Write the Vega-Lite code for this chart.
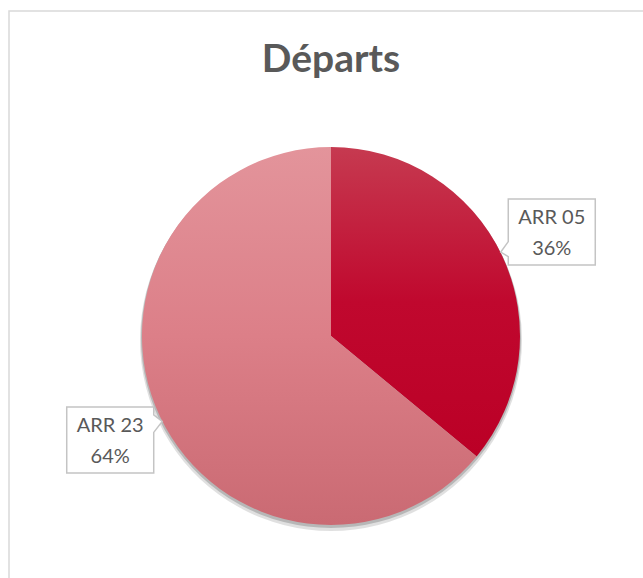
{
  "$schema": "https://vega.github.io/schema/vega-lite/v6.json",
  "width": 644,
  "height": 650,
  "autosize": {"type": "none"},
  "padding": {"left": 9, "top": 11, "right": 0, "bottom": 0},
  "background": "white",
  "config": {"view": {"stroke": "#d9d9d9", "strokeWidth": 1.5}},
  "title": {"text": "Départs", "font": "Lato", "fontSize": 39, "fontWeight": "bold", "color": "#595959", "offset": -100, "baseline": "alphabetic", "anchor": "middle"},
  "data": {"values": [
    {"cat": "ARR 05", "value": 36},
    {"cat": "ARR 23", "value": 64}
  ]},
  "layer": [
    {
      "mark": {"type": "arc", "radius": 191, "color": "#000000", "opacity": 0.12, "yOffset": 4},
      "encoding": {
        "theta": {"field": "value", "type": "quantitative", "stack": true},
        "order": {"field": "cat", "sort": "ascending"}
      }
    },
    {
      "mark": {"type": "arc", "radius": 190, "color": "#000000", "opacity": 0.18, "yOffset": 2},
      "encoding": {
        "theta": {"field": "value", "type": "quantitative", "stack": true},
        "order": {"field": "cat", "sort": "ascending"}
      }
    },
    {
      "mark": {"type": "arc", "radius": 189},
      "encoding": {
        "theta": {"field": "value", "type": "quantitative", "stack": true},
        "order": {"field": "cat", "sort": "ascending"},
        "color": {
          "condition": {
            "test": "datum.cat === 'ARR 05'",
            "value": {"gradient": "linear", "x1": 0, "y1": 0, "x2": 0, "y2": 1, "stops": [
              {"offset": 0, "color": "#c63a50"},
              {"offset": 0.5, "color": "#c0082e"},
              {"offset": 1, "color": "#bb0026"}
            ]}
          },
          "value": {"gradient": "linear", "x1": 0, "y1": 0, "x2": 0, "y2": 1, "stops": [
            {"offset": 0, "color": "#e3949b"},
            {"offset": 0.5, "color": "#dc7f88"},
            {"offset": 1, "color": "#ca6a73"}
          ]}
        }
      }
    },
    {
      "transform": [
        {"joinaggregate": [{"op": "sum", "field": "value", "as": "total"}]},
        {"window": [{"op": "sum", "field": "value", "as": "cum"}], "sort": [{"field": "cat"}]},
        {"calculate": "2 * PI * (datum.cum - datum.value / 2) / datum.total", "as": "mid"},
        {"calculate": "sin(datum.mid)", "as": "lx"},
        {"calculate": "cos(datum.mid)", "as": "ly"}
      ],
      "mark": {"type": "point", "filled": true, "fill": "#ffffff", "stroke": "#c4c4c4", "strokeWidth": 1.5, "size": 10000, "opacity": 1},
      "encoding": {
        "x": {"field": "lx", "type": "quantitative", "scale": {"domain": [-1.3197, 1.3197], "nice": false, "zero": false}, "axis": null},
        "y": {"field": "ly", "type": "quantitative", "scale": {"domain": [-1.332, 1.332], "nice": false, "zero": false}, "axis": null},
        "shape": {
          "condition": {"test": "datum.cat === 'ARR 05'", "value": "M-0.87,-0.66L0.87,-0.66L0.87,0.66L-0.87,0.66L-0.87,0.49L-1.02,0.40L-0.87,0.19Z"},
          "value": "M-0.87,-0.66L0.87,-0.66L0.87,-0.5L1.04,-0.37L0.87,-0.15L0.87,0.66L-0.87,0.66Z"
        }
      }
    },
    {
      "transform": [
        {"joinaggregate": [{"op": "sum", "field": "value", "as": "total"}]},
        {"window": [{"op": "sum", "field": "value", "as": "cum"}], "sort": [{"field": "cat"}]},
        {"calculate": "2 * PI * (datum.cum - datum.value / 2) / datum.total", "as": "mid"},
        {"calculate": "sin(datum.mid)", "as": "lx"},
        {"calculate": "cos(datum.mid)", "as": "ly"},
        {"calculate": "[datum.cat, format(datum.value / datum.total, '.0%')]", "as": "lines"}
      ],
      "mark": {"type": "text", "font": "Lato", "fontSize": 20, "color": "#595959", "align": "center", "baseline": "middle", "lineHeight": 31, "dy": -14},
      "encoding": {
        "x": {"field": "lx", "type": "quantitative"},
        "y": {"field": "ly", "type": "quantitative"},
        "text": {"field": "lines", "type": "nominal"}
      }
    }
  ]
}
